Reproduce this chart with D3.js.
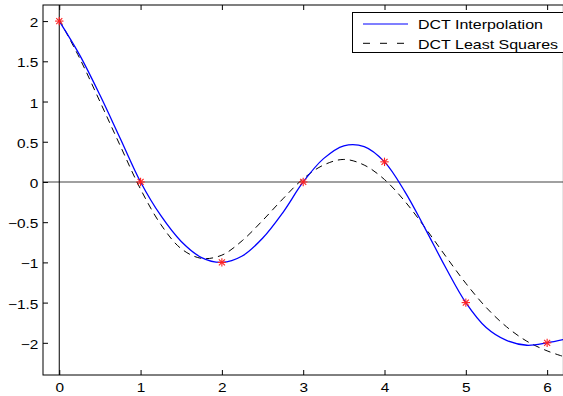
<!DOCTYPE html>
<html>
<head>
<meta charset="utf-8">
<script src="https://cdn.jsdelivr.net/npm/d3@7"></script>
<style>
  body { margin: 0; background: #fff; }
  text { font-family: "Liberation Sans", Arial, sans-serif; fill: #000; }
</style>
</head>
<body>
<div id="chart"></div>
<script>
// sample points
var sampleX = [0, 1, 2, 3, 4, 5, 6];
var sampleY = [2, 0, -1, 0, 0.25, -1.5, -2];

// curves at 0.25 steps
var curveX = [0, 0.25, 0.5, 0.75, 1, 1.25, 1.5, 1.75, 2, 2.25, 2.5, 2.75, 3,
              3.25, 3.5, 3.75, 4, 4.25, 4.5, 4.75, 5, 5.25, 5.5, 5.75, 6, 6.2];
var interpY = [2, 1.58, 1.08, 0.54, 0, -0.42, -0.74, -0.94, -1.0, -0.92, -0.70, -0.38, 0,
               0.29, 0.45, 0.44, 0.25, -0.12, -0.58, -1.06, -1.5, -1.81, -1.97, -2.03, -2.0, -1.96];
var lsqY = [2.02, 1.54, 1.00, 0.45, -0.09, -0.53, -0.83, -0.95, -0.91, -0.73, -0.48, -0.21, 0.04,
            0.21, 0.28, 0.21, 0.03, -0.24, -0.57, -0.92, -1.26, -1.56, -1.80, -1.98, -2.10, -2.17];

var xTicks = [0, 1, 2, 3, 4, 5, 6];
var yTicks = [-2, -1.5, -1, -0.5, 0, 0.5, 1, 1.5, 2];
var legendLabels = ["DCT Interpolation", "DCT Least Squares"];

var width = 563, height = 396;
var mLeft = 43, mTop = 5, mBottom = 375, mRight = 563.4;
var stretch = 1.23; // the picture's text is wider than tall

var svg = d3.select('#chart').append('svg')
    .attr('width', width)
    .attr('height', height);

var x = d3.scaleLinear().domain([-0.2, 6.2]).range([mLeft, mRight]);
var y = d3.scaleLinear().domain([-2.4, 2.2]).range([mBottom, mTop]);

svg.append('clipPath').attr('id', 'clip')
  .append('rect')
    .attr('x', mLeft).attr('y', mTop)
    .attr('width', mRight - mLeft).attr('height', mBottom - mTop);

var plot = svg.append('g').attr('clip-path', 'url(#clip)');

// zero line and x=0 line
plot.append('line')
    .attr('x1', mLeft).attr('x2', mRight)
    .attr('y1', y(0)).attr('y2', y(0))
    .style('stroke', '#808080')
    .style('stroke-width', 1.6);

plot.append('line')
    .attr('x1', x(0)).attr('x2', x(0))
    .attr('y1', mTop).attr('y2', mBottom)
    .style('stroke', '#000')
    .style('stroke-width', 1);

var line = d3.line()
    .x(function(d, i) { return x(curveX[i]); })
    .y(function(d) { return y(d); })
    .curve(d3.curveCatmullRom.alpha(0.5));

// least squares (dashed)
plot.append('path')
    .attr('d', line(lsqY))
    .style('fill', 'none')
    .style('stroke', '#000')
    .style('stroke-width', 1)
    .style('stroke-dasharray', '7,5');

// interpolation (blue)
plot.append('path')
    .attr('d', line(interpY))
    .style('fill', 'none')
    .style('stroke', '#0000ff')
    .style('stroke-width', 1.3);

// asterisk markers
var star = plot.selectAll('.star')
    .data(sampleX)
  .enter().append('g')
    .attr('class', 'star')
    .attr('transform', function(d, i) { return 'translate(' + x(d) + ',' + y(sampleY[i]) + ')'; })
    .style('stroke', '#ff2020')
    .style('stroke-width', 1.1);

var r = 4.2;
star.append('line').attr('x1', -r).attr('x2', r).attr('y1', 0).attr('y2', 0);
star.append('line').attr('x1', 0).attr('x2', 0).attr('y1', -r).attr('y2', r);
star.append('line').attr('x1', -r * 0.72).attr('x2', r * 0.72).attr('y1', -r * 0.72).attr('y2', r * 0.72);
star.append('line').attr('x1', -r * 0.72).attr('x2', r * 0.72).attr('y1', r * 0.72).attr('y2', -r * 0.72);

// axes
var fmt = function(d) { return String(d).replace('-', '\u2212'); };

var xAxis = svg.append('g')
    .attr('transform', 'translate(0,' + mBottom + ')')
    .call(d3.axisBottom(x).tickValues(xTicks).tickFormat(fmt).tickSizeInner(-5).tickSizeOuter(0));

var xTop = svg.append('g')
    .attr('transform', 'translate(0,' + mTop + ')')
    .call(d3.axisTop(x).tickValues(xTicks).tickFormat('').tickSizeInner(-5).tickSizeOuter(0));

var yAxis = svg.append('g')
    .attr('transform', 'translate(' + mLeft + ',0)')
    .call(d3.axisLeft(y).tickValues(yTicks).tickFormat(fmt).tickSizeInner(-5).tickSizeOuter(0));

svg.selectAll('.domain').remove();
svg.selectAll('.tick line').style('stroke', '#000');
svg.selectAll('.tick text')
    .attr('font-family', null)
    .style('font-size', '12.5px')
    .attr('x', null).attr('y', null).attr('dy', null);

xAxis.selectAll('.tick text')
    .attr('transform', 'translate(0,17) scale(' + stretch + ',1)');
yAxis.selectAll('.tick text')
    .attr('transform', 'translate(-4.7,5.5) scale(' + stretch + ',1)');

// box
svg.append('rect')
    .attr('x', mLeft).attr('y', mTop)
    .attr('width', mRight - mLeft).attr('height', mBottom - mTop)
    .style('fill', 'none')
    .style('stroke', '#000')
    .style('stroke-width', 1);

// legend
var legend = svg.append('g').attr('class', 'legend');

legend.append('rect')
    .attr('x', 352.5).attr('y', 12.5)
    .attr('width', 230).attr('height', 40)
    .style('fill', '#fff')
    .style('stroke', '#000')
    .style('stroke-width', 1);

var styles = [
    { stroke: '#0000ff', dash: null, w: 1.2 },
    { stroke: '#000', dash: '7,10', w: 1 }
];

legendLabels.forEach(function(label, i) {
    var ly = 24 + i * 19.3;
    legend.append('line')
        .attr('x1', 363).attr('x2', 408)
        .attr('y1', ly).attr('y2', ly)
        .style('stroke', styles[i].stroke)
        .style('stroke-width', styles[i].w)
        .style('stroke-dasharray', styles[i].dash);
    legend.append('text')
        .attr('transform', 'translate(418,' + (ly + 5.3) + ') scale(' + stretch + ',1)')
        .style('font-size', '13px')
        .text(label);
});
</script>
</body>
</html>
